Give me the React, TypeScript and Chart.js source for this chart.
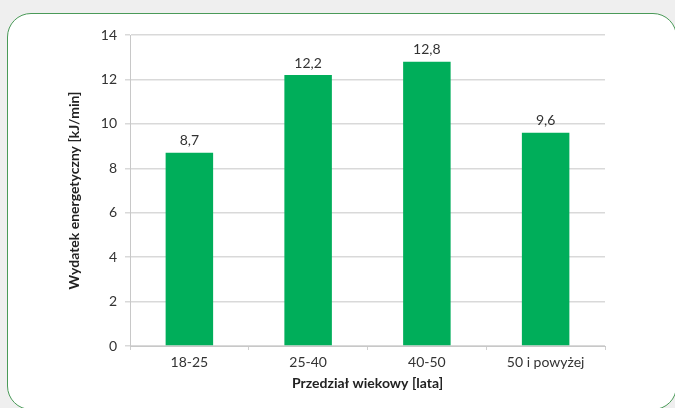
import React, { useEffect, useRef } from "react";
import { Chart, registerables } from "chart.js";

Chart.register(...registerables);

const categories = ["18-25", "25-40", "40-50", "50 i powyżej"];
const values = [8.7, 12.2, 12.8, 9.6];
const yTicks = [0, 2, 4, 6, 8, 10, 12, 14];
const xTitle = "Przedział wiekowy [lata]";
const yTitle = "Wydatek energetyczny [kJ/min]";

const FONT = "Lato, 'Open Sans', sans-serif";

const valueLabels = {
  id: "valueLabels",
  afterDatasetsDraw(chart: any) {
    const ctx = chart.ctx;
    const meta = chart.getDatasetMeta(0);
    ctx.save();
    ctx.font = `14px ${FONT}`;
    ctx.fillStyle = "#333333";
    ctx.textAlign = "center";
    ctx.textBaseline = "bottom";
    meta.data.forEach((el: any, i: number) => {
      const v = chart.data.datasets[0].data[i];
      ctx.fillText(String(v).replace(".", ","), el.x, el.y - 5);
    });
    ctx.restore();
  },
};

export default function App() {
  const ref = useRef<HTMLCanvasElement>(null);
  useEffect(() => {
    if (!ref.current) return;
    const chart = new Chart(ref.current, {
      type: "bar",
      data: {
        labels: categories,
        datasets: [
          {
            data: values,
            backgroundColor: "#00ae5a",
            borderWidth: 0,
            barPercentage: 0.4,
            categoryPercentage: 1,
          },
        ],
      },
      options: {
        animation: false,
        responsive: false,
        maintainAspectRatio: false,
        layout: { padding: { top: 35, right: 70, left: 0, bottom: 0 } },
        plugins: { legend: { display: false }, tooltip: { enabled: false } },
        scales: {
          x: {
            afterFit: (s: any) => {
              s.height = 62;
            },
            grid: {
              display: true,
              drawOnChartArea: false,
              drawTicks: true,
              tickLength: 4,
              color: "#cfcfcf",
              offset: true,
            },
            border: { color: "#c8c8c8", width: 1 },
            ticks: {
              padding: 4,
              color: "#333333",
              font: { family: FONT, size: 14 },
            },
            title: {
              display: true,
              text: xTitle,
              color: "#222222",
              font: { family: FONT, size: 14, weight: "bold" },
              padding: { top: 0, bottom: 16 },
            },
          },
          y: {
            min: 0,
            max: 14,
            afterFit: (s: any) => {
              s.width = 130;
            },
            afterBuildTicks: (s: any) => {
              s.ticks = yTicks.map((v) => ({ value: v }));
            },
            grid: {
              color: "#d9d9d9",
              lineWidth: 1.5,
              tickLength: 5,
            },
            border: { color: "#c8c8c8", width: 1 },
            ticks: {
              padding: 8,
              color: "#333333",
              font: { family: FONT, size: 14 },
            },
            title: {
              display: true,
              text: yTitle,
              color: "#222222",
              font: { family: FONT, size: 14, weight: "bold" },
              padding: { top: 66, bottom: 0 },
            },
          },
        },
      },
      plugins: [valueLabels],
    });
    return () => chart.destroy();
  }, []);

  return (
    <div
      style={{
        position: "fixed",
        left: 0,
        top: 0,
        width: 675,
        height: 408,
        background: "#efefef",
        overflow: "hidden",
      }}
    >
      <div
        style={{
          position: "absolute",
          left: 7,
          top: 13,
          width: 670,
          height: 397,
          border: "1.5px solid #4a9a58",
          borderRadius: 24,
          background: "#ffffff",
          boxSizing: "border-box",
        }}
      />
      <canvas
        ref={ref}
        width={675}
        height={408}
        style={{ position: "absolute", left: 0, top: 0, width: 675, height: 408 }}
      />
    </div>
  );
}
